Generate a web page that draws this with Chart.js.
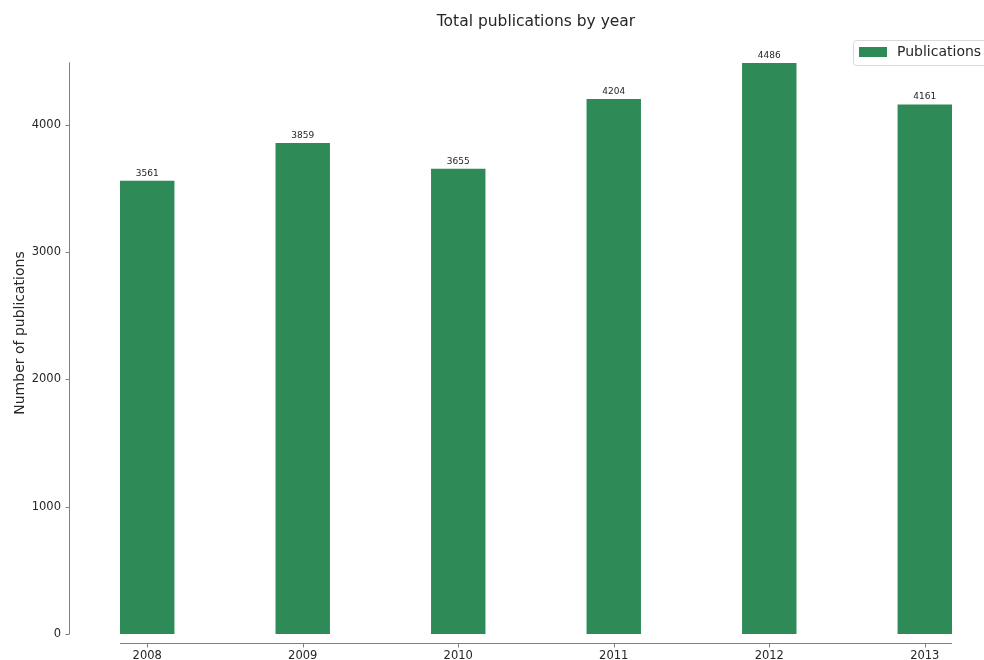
<!DOCTYPE html>
<html>
<head>
<meta charset="utf-8">
<script src="https://cdn.jsdelivr.net/npm/chart.js@4"></script>
<style>
  html, body { margin: 0; padding: 0; background: #fff; }
  #wrap { width: 984px; height: 660px; }
</style>
</head>
<body>
<div id="wrap"><canvas id="pubs-chart"></canvas></div>
<script>
const years = [2008, 2009, 2010, 2011, 2012, 2013];
const publications = [3561, 3859, 3655, 4204, 4486, 4161];
const yTicks = [0, 1000, 2000, 3000, 4000];

const barColor = '#2e8b57';
const textColor = '#262626';
const spineColor = '#808080';
const font = 'DejaVu Sans';

// matplotlib-ish extras: detached spines, y tick labels, bar values, titles, legend
const decorPlugin = {
  id: 'decor',
  afterDraw(chart) {
    const { ctx, chartArea, scales } = chart;
    const x = scales.x, y = scales.y;
    ctx.save();
    ctx.strokeStyle = spineColor;
    ctx.lineWidth = 1;

    // y spine pushed out to the left
    const ySpineX = 69.5;
    ctx.beginPath();
    ctx.moveTo(ySpineX, y.getPixelForValue(0));
    ctx.lineTo(ySpineX, y.getPixelForValue(4492));
    ctx.stroke();
    ctx.fillStyle = textColor;
    ctx.font = '11.5px "' + font + '"';
    ctx.textAlign = 'right';
    ctx.textBaseline = 'middle';
    yTicks.forEach(v => {
      const py = Math.round(y.getPixelForValue(v)) + 0.5;
      ctx.beginPath();
      ctx.moveTo(ySpineX - 4, py);
      ctx.lineTo(ySpineX, py);
      ctx.stroke();
      ctx.fillText(String(v), 61, py);
    });

    // x spine pushed down
    const xSpineY = 643.5;
    ctx.beginPath();
    ctx.moveTo(x.getPixelForValue(x.min), xSpineY);
    ctx.lineTo(x.getPixelForValue(x.max), xSpineY);
    ctx.stroke();
    years.forEach(v => {
      const px = Math.round(x.getPixelForValue(v)) + 0.5;
      ctx.beginPath();
      ctx.moveTo(px, xSpineY);
      ctx.lineTo(px, xSpineY + 4);
      ctx.stroke();
    });

    // value labels above bars
    ctx.font = '9px "' + font + '"';
    ctx.textAlign = 'center';
    ctx.textBaseline = 'bottom';
    chart.getDatasetMeta(0).data.forEach((bar, i) => {
      ctx.fillText(String(publications[i]), bar.x, bar.y - 3);
    });

    // title centred over the plot area
    ctx.font = '15.5px "' + font + '"';
    ctx.textBaseline = 'middle';
    ctx.fillText('Total publications by year', (chartArea.left + chartArea.right) / 2, 22);

    // y axis title
    ctx.save();
    ctx.translate(20, 333);
    ctx.rotate(-Math.PI / 2);
    ctx.font = '14px "' + font + '"';
    ctx.fillText('Number of publications', 0, 0);
    ctx.restore();

    // legend (runs off the right edge like the reference)
    ctx.fillStyle = '#ffffff';
    ctx.strokeStyle = '#d9d9d9';
    ctx.beginPath();
    ctx.roundRect(853.5, 40.5, 150, 25, 3);
    ctx.fill();
    ctx.stroke();
    ctx.fillStyle = barColor;
    ctx.fillRect(859, 47, 28, 10);
    ctx.fillStyle = textColor;
    ctx.font = '14px "' + font + '"';
    ctx.textAlign = 'left';
    ctx.fillText(chart.data.datasets[0].label, 897, 52);
    ctx.restore();
  }
};

const ctxPubs = document.getElementById('pubs-chart').getContext('2d');
const pubsChart = new Chart(ctxPubs, {
  type: 'bar',
  data: {
    datasets: [{
      label: 'Publications',
      data: years.map((yr, i) => ({ x: yr, y: publications[i] })),
      backgroundColor: barColor,
      borderWidth: 0,
      barPercentage: 0.35,
      categoryPercentage: 1.0,
    }],
  },
  options: {
    responsive: true,
    maintainAspectRatio: false,
    animation: false,
    layout: { padding: { top: 35, right: 32, bottom: 0, left: 0 } },
    plugins: {
      legend: { display: false },
      title: { display: false },
      tooltip: { enabled: false },
    },
    scales: {
      x: {
        type: 'linear',
        min: 2007.825,
        max: 2013.175,
        offset: false,
        grid: { display: false, drawTicks: false },
        border: { display: false },
        afterBuildTicks: (scale) => { scale.ticks = years.map(v => ({ value: v })); },
        afterFit: (scale) => { scale.height = 26; },
        ticks: {
          padding: 15,
          color: textColor,
          font: { family: font, size: 11.5 },
          callback: (v) => String(v),
          maxRotation: 0,
          autoSkip: false,
        },
      },
      y: {
        min: 0,
        max: 4707,
        grid: { display: false, drawTicks: false },
        border: { display: false },
        afterBuildTicks: (scale) => { scale.ticks = yTicks.map(v => ({ value: v })); },
        afterFit: (scale) => { scale.width = 120; },
        // labels drawn by decorPlugin so they can sit left of the offset spine
        ticks: { display: false, padding: 0 },
      },
    },
  },
  plugins: [decorPlugin],
});
</script>
</body>
</html>
